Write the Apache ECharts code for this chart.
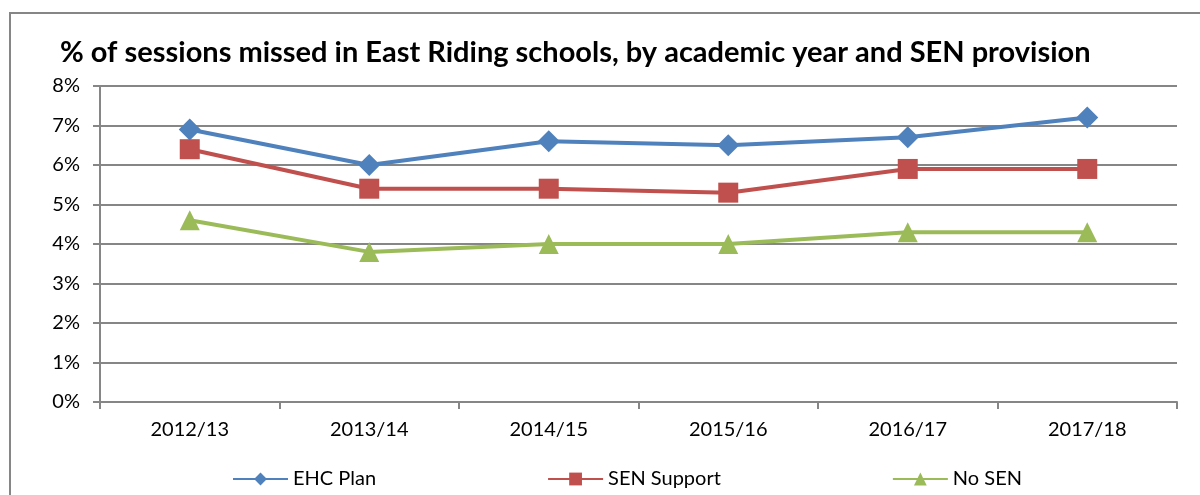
<!DOCTYPE html>
<html>
<head>
<meta charset="utf-8">
<script src="https://cdn.jsdelivr.net/npm/echarts@6/dist/echarts.min.js"></script>
<style>
  html, body { margin: 0; padding: 0; background: #fff; }
  #main { width: 1200px; height: 495px; }
</style>
</head>
<body>
<div id="main"></div>
<script>
var myChart = echarts.init(document.getElementById('main'));

var years = ['2012/13', '2013/14', '2014/15', '2015/16', '2016/17', '2017/18'];
var ehcPlan = [6.9, 6.0, 6.6, 6.5, 6.7, 7.2];
var senSupport = [6.4, 5.4, 5.4, 5.3, 5.9, 5.9];
var noSen = [4.6, 3.8, 4.0, 4.0, 4.3, 4.3];

var font = 'Lato';
var gray = '#868686';

function line(name, data, color, symbol) {
  return {
    name: name,
    type: 'line',
    data: data,
    symbol: symbol,
    symbolSize: symbol === 'diamond' ? 22 : 20,
    lineStyle: { color: color, width: 4 },
    itemStyle: { color: color },
    animation: false
  };
}

option = {
  animation: false,
  title: {
    text: '% of sessions missed in East Riding schools, by academic year and SEN provision',
    left: 55,
    top: 33,
    textStyle: { fontFamily: font, fontWeight: 'bold', fontSize: 29, color: '#000' }
  },
  graphic: [
    {
      type: 'rect',
      shape: { x: 10, y: 13, width: 1400, height: 800 },
      style: { fill: 'none', stroke: gray, lineWidth: 2 }
    }
  ],
  legend: {
    left: 227,
    top: 464,
    itemWidth: 55,
    itemHeight: 16,
    itemGap: 171,
    textStyle: { fontFamily: font, fontSize: 20, color: '#000' },
    data: ['EHC Plan', 'SEN Support', 'No SEN']
  },
  grid: { left: 100, right: 23, top: 86, bottom: 93 },
  xAxis: {
    type: 'category',
    data: years,
    boundaryGap: true,
    axisLine: { lineStyle: { color: gray, width: 2 } },
    axisTick: { show: true, length: 7, lineStyle: { color: gray, width: 2 } },
    axisLabel: { margin: 18, fontFamily: font, fontSize: 20, color: '#000' }
  },
  yAxis: {
    type: 'value',
    min: 0,
    max: 8,
    interval: 1,
    axisLine: { show: true, lineStyle: { color: gray, width: 2 } },
    axisTick: { show: true, length: 7, lineStyle: { color: gray, width: 2 } },
    axisLabel: { formatter: '{value}%', margin: 20, fontFamily: font, fontSize: 20, color: '#000' },
    splitLine: { lineStyle: { color: gray, width: 2 } }
  },
  series: [
    line('EHC Plan', ehcPlan, '#4F81BD', 'diamond'),
    line('SEN Support', senSupport, '#C0504D', 'rect'),
    line('No SEN', noSen, '#9BBB59', 'triangle')
  ]
};

myChart.setOption(option);
</script>
</body>
</html>
